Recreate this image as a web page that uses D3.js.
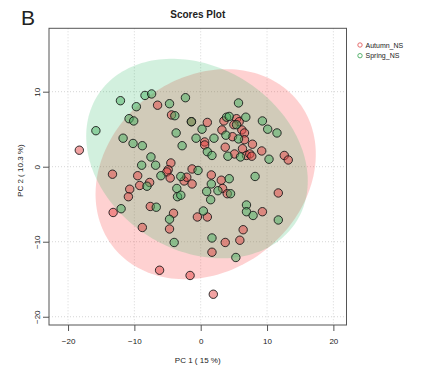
<!DOCTYPE html>
<html>
<head>
<meta charset="utf-8">
<script src="https://cdn.jsdelivr.net/npm/d3@7"></script>
<style>
body { margin: 0; background: #fff; }
text { font-family: "Liberation Sans", Arial, sans-serif; fill: #222; }
</style>
</head>
<body>
<div id="chart-area"></div>
<script>
// groups and scores
var groups = ["Autumn_NS", "Spring_NS"];
var autumnPC1 = [-18.3, -6.5, -4.4, -1.4, 1.0, 3.5, 5.4, 5.8, 5.0, 3.2, 4.8, 6.2, 6.6, 6.6, 7.8, 0.6, 0.6,
    3.7, 6.3, 5.1, 6.9, 7.4, 7.7, 9.2, 12.6, 13.2, -4.5, -4.9, -5.1, -4.6, -2.5, -2.1, -1.3, -1.3,
    1.6, 3.1, 3.3, 4.0, 11.7, -13.3, -9.5, -9.2, -7.7, -10.7, -10.9, -13.2, -7.6, -0.5, 1.0, -4.1,
    9.3, -8.8, -4.7, 6.4, 3.7, 5.9, 1.7, -6.2, -1.6, 1.9];
var autumnPC2 = [2.2, 8.2, 6.9, 6.0, 5.9, 6.1, 6.4, 6.0, 5.6, 4.9, 4.0, 4.9, 4.5, 3.6, 3.0, 3.3, 2.9,
    2.6, 2.4, 1.7, 1.5, 1.7, 1.4, 2.1, 1.5, 0.9, 0.5, -0.4, -0.7, -1.5, -1.9, -1.4, -0.3, -2.3,
    -1.1, -1.8, -2.9, -3.6, -3.5, -1.0, -1.2, -2.5, -2.1, -3.0, -4.0, -6.1, -5.3, -6.7, -6.7, -6.2,
    -6.0, -8.1, -8.3, -8.4, -10.1, -9.8, -11.4, -13.8, -14.5, -17.0];
var springPC1 = [-8.4, -7.4, -2.3, -12.1, -9.7, -4.7, 5.7, -3.9, -10.8, -10.1, -1.4, 3.9, 4.3, 6.8, 9.3,
    10.1, 11.5, 5.4, 0.2, 3.8, -3.7, -15.8, -11.7, -10.2, -8.8, -2.8, -0.7, 2.0, 5.7, 1.0, 1.7,
    4.1, 6.0, 10.3, -7.5, -8.9, -6.8, -6.0, -3.0, -0.4, 4.3, 1.6, 0.9, 2.6, 4.5, 1.5, 8.2, -8.1,
    -3.6, -3.5, -3.0, -12.0, -6.7, 0.4, -4.7, 6.9, 6.9, 7.9, 11.7, 1.7, -4.0, 5.3];
var springPC2 = [9.5, 9.7, 9.2, 8.8, 8.0, 8.4, 8.5, 6.8, 6.4, 6.1, 6.0, 6.6, 6.7, 6.6, 6.1,
    5.0, 4.5, 5.6, 5.0, 4.2, 4.5, 4.8, 3.8, 3.1, 2.8, 2.8, 3.8, 3.8, 3.7, 2.0, 1.5,
    1.4, 1.3, 1.0, 1.3, 0.2, 0.2, -1.2, -1.3, -0.5, -1.6, -2.3, -3.3, -3.2, -3.6, -4.4, -1.3, -2.6,
    -2.9, -4.0, -3.8, -5.6, -5.4, -5.9, -7.0, -5.1, -6.0, -6.5, -7.1, -9.5, -10.1, -12.1];
// 95% ellipses: centre, half ranges and correlation, per group
var ellipseCenter = [[0.75, -1.0], [-0.56, 1.09]];
var ellipseHalfRange = [[16.6, 14.0], [16.7, 13.3]];
var ellipseCorr = [0.19, -0.225];
var xTicks = [-20, -10, 0, 10, 20];
var yTicks = [-20, -10, 0, 10];
var xLimits = [-22.87, 21.98];
var yLimits = [-21.1, 18.45];

var pointFill = ["rgba(230,70,70,0.5)", "rgba(70,175,95,0.5)"];
var pointLine = ["rgb(225,95,95)", "rgb(70,170,95)"];
var areaFill = ["rgb(250,70,70)", "rgb(30,180,90)"];
var areaAlpha = [0.25, 0.2];

var margin = { left: 49, right: 76.5, top: 28.3, bottom: 51 };
var width = 423 - margin.left - margin.right;
var height = 376 - margin.top - margin.bottom;

var svg = d3.select("#chart-area").append("svg")
    .attr("width", 423)
    .attr("height", 376);
svg.append("rect").attr("width", 423).attr("height", 376).attr("fill", "#fff");
var g = svg.append("g")
    .attr("transform", "translate(" + margin.left + ", " + margin.top + ")");

var x = d3.scaleLinear().domain(xLimits).range([0, width]);
var y = d3.scaleLinear().domain(yLimits).range([height, 0]);

// grid
g.selectAll(".vgrid").data(xTicks).enter().append("line")
    .attr("x1", d => x(d)).attr("x2", d => x(d))
    .attr("y1", 0).attr("y2", height)
    .attr("stroke", "#d6d6d6").attr("stroke-dasharray", "1,2");
g.selectAll(".hgrid").data(yTicks).enter().append("line")
    .attr("y1", d => y(d)).attr("y2", d => y(d))
    .attr("x1", 0).attr("x2", width)
    .attr("stroke", "#d6d6d6").attr("stroke-dasharray", "1,2");

// ellipses (autumn first, spring drawn over it)
var angles = d3.range(0, 2 * Math.PI + 0.01, Math.PI / 90);
var ellipseLine = d3.line()
    .x(d => x(d[0]))
    .y(d => y(d[1]));
groups.forEach(function (grp, i) {
    var c = ellipseCenter[i], h = ellipseHalfRange[i], r = ellipseCorr[i];
    var pts = angles.map(function (t) {
        return [c[0] + h[0] * Math.cos(t),
                c[1] + h[1] * (r * Math.cos(t) + Math.sqrt(1 - r * r) * Math.sin(t))];
    });
    g.append("path")
        .attr("d", ellipseLine(pts))
        .attr("fill", areaFill[i])
        .attr("fill-opacity", areaAlpha[i])
        .attr("stroke", "none");
});

// points
var series = [
    d3.zip(autumnPC1, autumnPC2),
    d3.zip(springPC1, springPC2)
];
series.forEach(function (data, i) {
    g.selectAll(".pt" + i).data(data).enter().append("circle")
        .attr("cx", d => x(d[0]))
        .attr("cy", d => y(d[1]))
        .attr("r", 4.2)
        .attr("fill", pointFill[i])
        .attr("stroke", "#1a1a1a")
        .attr("stroke-width", 0.9);
});

// box
g.append("rect")
    .attr("width", width).attr("height", height)
    .attr("fill", "none").attr("stroke", "#555").attr("stroke-width", 1);

// axes
var xaxg = g.append("g")
    .attr("transform", "translate(0, " + height + ")")
    .call(d3.axisBottom(x).tickValues(xTicks).tickSize(6).tickPadding(7));
var yaxg = g.append("g")
    .call(d3.axisLeft(y).tickValues(yTicks).tickSize(6));
[xaxg, yaxg].forEach(function (a) {
    a.select(".domain").remove();
    a.selectAll("line").attr("stroke", "#555");
    a.selectAll("text").attr("font-size", "8px").attr("fill", "#222")
        .attr("font-family", "Liberation Sans, Arial, sans-serif");
});
yaxg.selectAll("text")
    .attr("x", 0).attr("y", -9).attr("dy", 0)
    .attr("text-anchor", "middle")
    .attr("transform", "rotate(-90)");

// labels
g.append("text")
    .attr("x", width / 2).attr("y", height + 38)
    .attr("font-size", "8px").attr("text-anchor", "middle")
    .text("PC 1 ( 15 %)");
g.append("text")
    .attr("transform", "translate(-26, " + (height / 2 - 6) + ") rotate(-90)")
    .attr("font-size", "8px").attr("text-anchor", "middle")
    .text("PC 2 ( 10.3 %)");
svg.append("text")
    .attr("x", margin.left + width / 2).attr("y", 18)
    .attr("font-size", "10px").attr("font-weight", "bold").attr("text-anchor", "middle")
    .text("Scores Plot");
svg.append("text")
    .attr("x", 21).attr("y", 25)
    .attr("font-size", "21px")
    .text("B");

// legend
var legend = svg.selectAll(".legend").data(groups).enter().append("g")
    .attr("transform", (d, i) => "translate(360, " + (45 + i * 10.7) + ")");
legend.append("circle")
    .attr("r", 2.2)
    .attr("fill", "none")
    .attr("stroke", (d, i) => pointLine[i])
    .attr("stroke-width", 0.9);
legend.append("text")
    .attr("x", 5.5).attr("y", 2.5)
    .attr("font-size", "7px")
    .text(d => d);
</script>
</body>
</html>
